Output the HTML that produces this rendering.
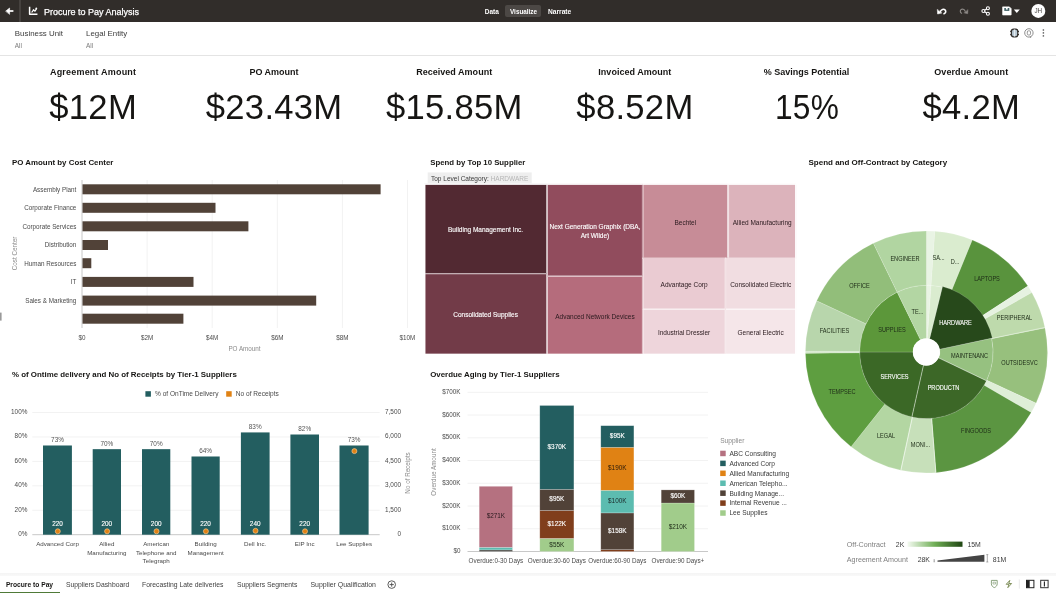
<!DOCTYPE html>
<html lang="en">
<head>
<meta charset="utf-8">
<title>Procure to Pay Analysis</title>
<style>
html,body{margin:0;padding:0;background:#fff}
body{width:1056px;height:594px;overflow:hidden;position:relative;font-family:"Liberation Sans",sans-serif;color:#161513}
.t{position:absolute;white-space:nowrap;display:block}
header{position:absolute;left:0;top:0;width:1056px;height:22px;background:#312d2a;color:#fff}
header .sep{position:absolute;left:19.3px;top:0;width:1.4px;height:22px;background:#46423f}
header .pill{position:absolute;left:505.3px;top:4.7px;width:36px;height:12.6px;border-radius:2px;background:#4c4845}
header svg{position:absolute;left:0;top:0}
.filters{position:absolute;left:0;top:22px;width:1056px;height:33px;border-bottom:1px solid #e4e4e4;background:#fff}
.filters svg{position:absolute;left:0;top:-22px}
.ttl{-webkit-text-stroke:0.25px #fff}
.kl{color:#161513;font-weight:700}
.kv{color:#161513}
.pct{transform:scaleX(0.915);transform-origin:50% 50%}
svg.charts{position:absolute;left:0;top:0}
footer{position:absolute;left:0;top:573px;width:1056px;height:21px;background:#fff}
footer .edge{position:absolute;left:0;top:0.2px;width:1056px;height:3px;background:linear-gradient(#f4f4f4,#f9f9f9)}
footer .t{color:#404040}
footer .on{color:#161513}
footer .bar{position:absolute;left:0;top:18.8px;width:59.8px;height:1.7px;background:#4f7a38}
footer svg{position:absolute;left:0;top:-573px}
</style>
</head>
<body>
<header>
<div class="sep"></div>
<div class="pill"></div>
<span class="t ttl" style="top:7.68px;font-size:9.0px;line-height:9.0px;left:44px;color:#fff;">Procure to Pay Analysis</span>
<span class="t" style="top:9.00px;font-size:6.5px;line-height:6.5px;left:484.7px;color:#fff;font-weight:700;">Data</span>
<span class="t" style="top:9.12px;font-size:6.35px;line-height:6.35px;left:510px;color:#fff;font-weight:700;">Visualize</span>
<span class="t" style="top:8.87px;font-size:6.65px;line-height:6.65px;left:548px;color:#fff;font-weight:700;">Narrate</span>
<svg width="1056" height="22" viewBox="0 0 1056 22" fill="none" stroke="#fff" stroke-width="1.3" stroke-linecap="round" stroke-linejoin="round">
<path d="M13.4,11H8" stroke-width="1.7" stroke-linecap="butt"/><path d="M5.9,11L9.6,8v6z" fill="#fff" stroke-width="0.6"/>
<path d="M29.6,7.4v6.9h7.1" stroke-width="1.5" stroke-linecap="square"/><path d="M31.9,12.1l1.6-2.1l1.5,1.2l1.5-2.6" stroke-width="1.2"/><circle cx="36.3" cy="8.4" r="0.9" fill="#fff" stroke="none"/><circle cx="33.5" cy="10.1" r="0.8" fill="#fff" stroke="none"/>
<path d="M940.4,11.4c0.9-2,3.3-2.8,4.6-1.6c1.4,1.3,0.8,3.2-1,3.9" stroke-width="1.6"/><path d="M937.3,9.7l0.3,4.3l4-0.9z" fill="#fff" stroke-width="0.5"/>
<path d="M965.2,11.2c-0.9-1.9-3-2.6-4.2-1.5c-1.2,1.1-0.8,2.8,0.6,3.5" stroke="#8f8b88" stroke-width="1.1"/><path d="M968,9.9l-0.3,3.8l-3.5-0.8z" fill="#8f8b88" stroke="#8f8b88" stroke-width="0.4"/>
<path d="M983.4,11l4.4-2.8M983.4,11l4.4,2.7" stroke-width="1.1"/><circle cx="983.4" cy="11" r="1.5" fill="#312d2a" stroke-width="1.1"/><circle cx="987.9" cy="8.2" r="1.5" fill="#312d2a" stroke-width="1.1"/><circle cx="987.9" cy="13.7" r="1.5" fill="#312d2a" stroke-width="1.1"/>
<path d="M1003,6.9h6.4l1.7,1.7v6.3h-8.1z" fill="#fff" stroke-width="0.8"/><rect x="1004.3" y="8" width="5" height="2.9" fill="#3f5f63" stroke="none"/><rect x="1005.9" y="8" width="1.8" height="1.6" fill="#fff" stroke="none"/>
<path d="M1013.8,9.6h6l-3,3.5z" fill="#fff" stroke="none"/>
<circle cx="1038.3" cy="10.9" r="7" fill="#fff" stroke="none"/>
</svg>
<span class="t" style="top:8.27px;font-size:6.3px;line-height:6.3px;left:888.30px;width:300px;text-align:center;color:#4a4643;">JH</span>
</header>
<div class="filters">
<span class="t" style="top:7.91px;font-size:7.9px;line-height:7.9px;left:14.8px;color:#3d3d3d;">Business Unit</span>
<span class="t" style="top:20.98px;font-size:6.4px;line-height:6.4px;left:14.8px;color:#7a7a7a;">All</span>
<span class="t" style="top:7.91px;font-size:7.9px;line-height:7.9px;left:86px;color:#3d3d3d;">Legal Entity</span>
<span class="t" style="top:20.98px;font-size:6.4px;line-height:6.4px;left:86px;color:#7a7a7a;">All</span>
<svg width="1056" height="56" viewBox="0 0 1056 56" fill="none" stroke="#4a4a4a" stroke-width="0.9">
<rect x="1011.4" y="29.2" width="6.4" height="7.6" rx="2.2" fill="#b9c9d4" stroke="#33302d" stroke-width="1.3"/><path d="M1014.6,29.4v7.2" stroke="#eef3f6" stroke-width="0.9"/><path d="M1010.2,31.4h1.6M1010.2,34.6h1.6M1017.4,31.4h1.6M1017.4,34.6h1.6" stroke="#33302d" stroke-width="1.1"/>
<circle cx="1028.9" cy="32.9" r="4.2" stroke="#8c8c8c" stroke-width="1"/><rect x="1027.3" y="30.8" width="3.2" height="4.2" rx="1.2" stroke="#8c8c8c" stroke-width="0.9"/><circle cx="1030.6" cy="37" r="0.6" fill="#555" stroke="none"/>
<rect x="1042.7" y="29.3" width="1.4" height="1.4" fill="#555" stroke="none"/><rect x="1042.7" y="32.2" width="1.4" height="1.4" fill="#555" stroke="none"/><rect x="1042.7" y="35.2" width="1.4" height="1.4" fill="#555" stroke="none"/>
</svg>
</div>
<section class="kpis">
<div class="kpi"><span class="t kl" style="top:68.08px;font-size:9.0px;line-height:9.0px;left:-56.91px;width:300px;text-align:center;letter-spacing:0.19px;">Agreement Amount</span><span class="t kv" style="top:90.01px;font-size:34.6px;line-height:34.6px;left:-56.85px;width:300px;text-align:center;letter-spacing:0.3px;">$12M</span></div>
<div class="kpi"><span class="t kl" style="top:68.08px;font-size:9.0px;line-height:9.0px;left:124.00px;width:300px;text-align:center;letter-spacing:0px;">PO Amount</span><span class="t kv" style="top:90.01px;font-size:34.6px;line-height:34.6px;left:124.15px;width:300px;text-align:center;letter-spacing:0.3px;">$23.43M</span></div>
<div class="kpi"><span class="t kl" style="top:68.08px;font-size:9.0px;line-height:9.0px;left:304.21px;width:300px;text-align:center;letter-spacing:0.02px;">Received Amount</span><span class="t kv" style="top:90.01px;font-size:34.6px;line-height:34.6px;left:304.35px;width:300px;text-align:center;letter-spacing:0.3px;">$15.85M</span></div>
<div class="kpi"><span class="t kl" style="top:68.08px;font-size:9.0px;line-height:9.0px;left:484.81px;width:300px;text-align:center;letter-spacing:0.02px;">Invoiced Amount</span><span class="t kv" style="top:90.01px;font-size:34.6px;line-height:34.6px;left:484.95px;width:300px;text-align:center;letter-spacing:0.3px;">$8.52M</span></div>
<div class="kpi"><span class="t kl" style="top:68.08px;font-size:9.0px;line-height:9.0px;left:656.50px;width:300px;text-align:center;letter-spacing:0px;">% Savings Potential</span><span class="t kv pct" style="top:90.01px;font-size:34.6px;line-height:34.6px;left:656.65px;width:300px;text-align:center;letter-spacing:0.3px;">15%</span></div>
<div class="kpi"><span class="t kl" style="top:68.08px;font-size:9.0px;line-height:9.0px;left:821.25px;width:300px;text-align:center;letter-spacing:0.1px;">Overdue Amount</span><span class="t kv" style="top:90.01px;font-size:34.6px;line-height:34.6px;left:821.35px;width:300px;text-align:center;letter-spacing:0.3px;">$4.2M</span></div>
</section>
<svg class="charts" width="1056" height="594" viewBox="0 0 1056 594" font-family='"Liberation Sans", sans-serif'>
<g id="chart-po-cost-center"><text x="12" y="165" font-size="7.9" fill="#161513" font-weight="700">PO Amount by Cost Center</text><line x1="147.1" y1="180" x2="147.1" y2="328" stroke="#f2f2f2" stroke-width="1"/><line x1="212.2" y1="180" x2="212.2" y2="328" stroke="#f2f2f2" stroke-width="1"/><line x1="277.29999999999995" y1="180" x2="277.29999999999995" y2="328" stroke="#f2f2f2" stroke-width="1"/><line x1="342.4" y1="180" x2="342.4" y2="328" stroke="#f2f2f2" stroke-width="1"/><line x1="407.5" y1="180" x2="407.5" y2="328" stroke="#f2f2f2" stroke-width="1"/><line x1="82.0" y1="180" x2="82.0" y2="328" stroke="#c8c8c8" stroke-width="1"/><rect x="82.50" y="184.30" width="298.10" height="10.00" fill="#514238"/><text x="76.3" y="191.60000000000002" font-size="6.3" fill="#4a4a4a" text-anchor="end">Assembly Plant</text><rect x="82.50" y="202.80" width="133.00" height="10.00" fill="#514238"/><text x="76.3" y="210.10000000000002" font-size="6.3" fill="#4a4a4a" text-anchor="end">Corporate Finance</text><rect x="82.50" y="221.30" width="165.90" height="10.00" fill="#514238"/><text x="76.3" y="228.60000000000002" font-size="6.3" fill="#4a4a4a" text-anchor="end">Corporate Services</text><rect x="82.50" y="240.00" width="25.50" height="10.00" fill="#514238"/><text x="76.3" y="247.3" font-size="6.3" fill="#4a4a4a" text-anchor="end">Distribution</text><rect x="82.50" y="258.20" width="8.80" height="10.00" fill="#514238"/><text x="76.3" y="265.5" font-size="6.3" fill="#4a4a4a" text-anchor="end">Human Resources</text><rect x="82.50" y="276.90" width="111.00" height="10.00" fill="#514238"/><text x="76.3" y="284.2" font-size="6.3" fill="#4a4a4a" text-anchor="end">IT</text><rect x="82.50" y="295.60" width="233.70" height="10.00" fill="#514238"/><text x="76.3" y="302.90000000000003" font-size="6.3" fill="#4a4a4a" text-anchor="end">Sales &amp; Marketing</text><rect x="82.50" y="313.70" width="100.90" height="10.00" fill="#514238"/><text x="82.0" y="340.2" font-size="6.3" fill="#4a4a4a" text-anchor="middle">$0</text><text x="147.1" y="340.2" font-size="6.3" fill="#4a4a4a" text-anchor="middle">$2M</text><text x="212.2" y="340.2" font-size="6.3" fill="#4a4a4a" text-anchor="middle">$4M</text><text x="277.29999999999995" y="340.2" font-size="6.3" fill="#4a4a4a" text-anchor="middle">$6M</text><text x="342.4" y="340.2" font-size="6.3" fill="#4a4a4a" text-anchor="middle">$8M</text><text x="407.5" y="340.2" font-size="6.3" fill="#4a4a4a" text-anchor="middle">$10M</text><text x="244.5" y="351.3" font-size="6.3" fill="#8a8a8a" text-anchor="middle">PO Amount</text><text transform="translate(16.6,253.5) rotate(-90)" font-size="6.3" fill="#8a8a8a" text-anchor="middle">Cost Center</text><rect x="0.00" y="312.60" width="1.60" height="8.00" fill="#9a9a9a"/></g>
<g id="chart-treemap"><text x="430.2" y="165" font-size="7.8" fill="#161513" font-weight="700">Spend by Top 10 Supplier</text><rect x="427.70" y="172.40" width="104.00" height="11.00" fill="#eeeeee"/><text x="431" y="181" font-size="6.5" fill="#3a3a3a">Top Level Category: <tspan fill="#b5b5b5">HARDWARE</tspan></text><rect x="424.30" y="183.90" width="122.70" height="89.80" fill="#522932"/><rect x="424.30" y="273.40" width="122.70" height="81.20" fill="#723b48"/><rect x="547.00" y="183.90" width="95.90" height="92.40" fill="#914c5d"/><rect x="547.00" y="276.10" width="95.90" height="78.50" fill="#b56c7c"/><rect x="642.50" y="183.90" width="85.60" height="74.50" fill="#c78c97"/><rect x="728.10" y="183.90" width="68.10" height="74.50" fill="#dcb3bb"/><rect x="642.50" y="257.80" width="83.20" height="51.60" fill="#eacbd2"/><rect x="725.10" y="257.80" width="71.10" height="51.60" fill="#f1dde1"/><rect x="642.50" y="309.20" width="83.20" height="45.40" fill="#eed5db"/><rect x="725.10" y="309.20" width="71.10" height="45.40" fill="#f5e6e9"/><path d="M424.2,183.9h122.9v89.8h-122.9ZM425.3,184.7v88.2h120.7v-88.2ZM424.2,273.4h122.9v81.2h-122.9ZM425.3,274.2v79.6h120.7v-79.6ZM546.9,183.9h96.1v92.4h-96.1ZM548.0,184.7v90.8h93.9v-90.8ZM546.9,276.1h96.1v78.5h-96.1ZM548.0,276.9v76.9h93.9v-76.9ZM642.4,183.9h85.8v74.5h-85.8ZM643.5,184.7v72.9h83.6v-72.9ZM728.0,183.9h68.3v74.5h-68.3ZM729.1,184.7v72.9h66.1v-72.9ZM642.4,257.8h83.4v51.6h-83.4ZM643.5,258.6v50.0h81.2v-50.0ZM725.0,257.8h71.3v51.6h-71.3ZM726.1,258.6v50.0h69.1v-50.0ZM642.4,309.2h83.4v45.4h-83.4ZM643.5,310.0v43.8h81.2v-43.8ZM725.0,309.2h71.3v45.4h-71.3ZM726.1,310.0v43.8h69.1v-43.8Z" fill="#fff" fill-opacity="0.72" fill-rule="evenodd"/><rect x="420.00" y="183.40" width="380.00" height="1.30" fill="#fff"/><rect x="420.00" y="353.80" width="380.00" height="1.40" fill="#fff"/><rect x="424.00" y="184.00" width="1.30" height="170.00" fill="#fff"/><rect x="795.20" y="184.00" width="1.40" height="170.00" fill="#fff"/><text x="485.6" y="232.2" font-size="6.5" fill="#fff" text-anchor="middle" stroke="#fff" stroke-width="0.12">Building Management Inc.</text><text x="485.6" y="317.4" font-size="6.5" fill="#fff" text-anchor="middle" stroke="#fff" stroke-width="0.12">Consolidated Supplies</text><text x="595.0" y="229.2" font-size="6.5" fill="#fff" text-anchor="middle" stroke="#fff" stroke-width="0.12">Next Generation Graphix (DBA,</text><text x="595.0" y="237.8" font-size="6.5" fill="#fff" text-anchor="middle" stroke="#fff" stroke-width="0.12">Art Wilde)</text><text x="595.0" y="318.8" font-size="6.5" fill="#2a1a1e" text-anchor="middle">Advanced Network Devices</text><text x="685.3" y="224.6" font-size="6.5" fill="#2a1a1e" text-anchor="middle">Bechtel</text><text x="762.2" y="224.6" font-size="6.5" fill="#2a1a1e" text-anchor="middle">Allied Manufacturing</text><text x="684.1" y="287.0" font-size="6.5" fill="#2a1a1e" text-anchor="middle">Advantage Corp</text><text x="760.7" y="287.0" font-size="6.5" fill="#2a1a1e" text-anchor="middle">Consolidated Electric</text><text x="684.1" y="335.3" font-size="6.5" fill="#2a1a1e" text-anchor="middle">Industrial Dressler</text><text x="760.7" y="335.3" font-size="6.5" fill="#2a1a1e" text-anchor="middle">General Electric</text></g>
<g id="chart-sunburst"><text x="808.5" y="165" font-size="8.0" fill="#161513" font-weight="700">Spend and Off-Contract by Category</text><path d="M926.40,231.00A121.0,121.0 0 0 1 934.84,231.29L931.05,285.56A66.6,66.6 0 0 0 926.40,285.40Z" fill="#e9f4e4" stroke="#ffffff" stroke-opacity="0.22" stroke-width="0.7"/><path d="M934.84,231.29A121.0,121.0 0 0 1 972.31,240.05L951.67,290.38A66.6,66.6 0 0 0 931.05,285.56Z" fill="#daeccf" stroke="#ffffff" stroke-opacity="0.22" stroke-width="0.7"/><path d="M972.31,240.05A121.0,121.0 0 0 1 1027.88,286.10L982.26,315.73A66.6,66.6 0 0 0 951.67,290.38Z" fill="#59933d" stroke="#ffffff" stroke-opacity="0.22" stroke-width="0.7"/><path d="M1027.88,286.10A121.0,121.0 0 0 1 1031.82,292.60L984.42,319.31A66.6,66.6 0 0 0 982.26,315.73Z" fill="#e6f2e1" stroke="#ffffff" stroke-opacity="0.22" stroke-width="0.7"/><path d="M1031.82,292.60A121.0,121.0 0 0 1 1044.97,327.88L991.66,338.72A66.6,66.6 0 0 0 984.42,319.31Z" fill="#bedaac" stroke="#ffffff" stroke-opacity="0.22" stroke-width="0.7"/><path d="M1044.97,327.88A121.0,121.0 0 0 1 1036.06,403.14L986.76,380.15A66.6,66.6 0 0 0 991.66,338.72Z" fill="#97c07d" stroke="#ffffff" stroke-opacity="0.22" stroke-width="0.7"/><path d="M1036.06,403.14A121.0,121.0 0 0 1 1031.19,412.50L984.08,385.30A66.6,66.6 0 0 0 986.76,380.15Z" fill="#deeed7" stroke="#ffffff" stroke-opacity="0.22" stroke-width="0.7"/><path d="M1031.19,412.50A121.0,121.0 0 0 1 935.89,472.63L931.63,418.39A66.6,66.6 0 0 0 984.08,385.30Z" fill="#5b9541" stroke="#ffffff" stroke-opacity="0.22" stroke-width="0.7"/><path d="M935.89,472.63A121.0,121.0 0 0 1 900.83,470.27L912.33,417.10A66.6,66.6 0 0 0 931.63,418.39Z" fill="#c7e0ba" stroke="#ffffff" stroke-opacity="0.22" stroke-width="0.7"/><path d="M900.83,470.27A121.0,121.0 0 0 1 851.08,446.70L884.94,404.12A66.6,66.6 0 0 0 912.33,417.10Z" fill="#b3d6a2" stroke="#ffffff" stroke-opacity="0.22" stroke-width="0.7"/><path d="M851.08,446.70A121.0,121.0 0 0 1 805.41,353.27L859.80,352.70A66.6,66.6 0 0 0 884.94,404.12Z" fill="#5e9e40" stroke="#ffffff" stroke-opacity="0.22" stroke-width="0.7"/><path d="M805.41,353.27A121.0,121.0 0 0 1 805.40,351.16L859.80,351.54A66.6,66.6 0 0 0 859.80,352.70Z" fill="#d4e8ca" stroke="#ffffff" stroke-opacity="0.22" stroke-width="0.7"/><path d="M805.40,351.16A121.0,121.0 0 0 1 816.74,300.86L866.04,323.85A66.6,66.6 0 0 0 859.80,351.54Z" fill="#b8d6ac" stroke="#ffffff" stroke-opacity="0.22" stroke-width="0.7"/><path d="M816.74,300.86A121.0,121.0 0 0 1 873.36,243.25L897.20,292.14A66.6,66.6 0 0 0 866.04,323.85Z" fill="#92be7a" stroke="#ffffff" stroke-opacity="0.22" stroke-width="0.7"/><path d="M873.36,243.25A121.0,121.0 0 0 1 926.40,231.00L926.40,285.40A66.6,66.6 0 0 0 897.20,292.14Z" fill="#b1d5a1" stroke="#ffffff" stroke-opacity="0.22" stroke-width="0.7"/><path d="M926.40,285.40A66.6,66.6 0 0 1 931.05,285.56L927.34,338.53A13.5,13.5 0 0 0 926.40,338.50Z" fill="#e9f4e4" stroke="#ffffff" stroke-opacity="0.22" stroke-width="0.7"/><path d="M931.05,285.56A66.6,66.6 0 0 1 942.40,287.35L929.64,338.90A13.5,13.5 0 0 0 927.34,338.53Z" fill="#daeccf" stroke="#ffffff" stroke-opacity="0.22" stroke-width="0.7"/><path d="M991.54,338.15A66.6,66.6 0 0 1 986.46,380.78L938.57,357.83A13.5,13.5 0 0 0 939.60,349.19Z" fill="#96c180" stroke="#ffffff" stroke-opacity="0.22" stroke-width="0.7"/><path d="M986.46,380.78A66.6,66.6 0 0 1 911.87,417.00L923.46,365.17A13.5,13.5 0 0 0 938.57,357.83Z" fill="#3c6727" stroke="#ffffff" stroke-opacity="0.22" stroke-width="0.7"/><path d="M911.87,417.00A66.6,66.6 0 0 1 859.80,352.00L912.90,352.00A13.5,13.5 0 0 0 923.46,365.17Z" fill="#3b6826" stroke="#ffffff" stroke-opacity="0.22" stroke-width="0.7"/><path d="M859.80,352.00A66.6,66.6 0 0 1 897.20,292.14L920.48,339.87A13.5,13.5 0 0 0 912.90,352.00Z" fill="#5c973a" stroke="#ffffff" stroke-opacity="0.22" stroke-width="0.7"/><path d="M897.20,292.14A66.6,66.6 0 0 1 926.40,285.40L926.40,338.50A13.5,13.5 0 0 0 920.48,339.87Z" fill="#b3d6a3" stroke="#ffffff" stroke-opacity="0.22" stroke-width="0.7"/><path d="M942.59,286.57A67.4,67.4 0 0 1 992.33,337.99L939.60,349.19A13.5,13.5 0 0 0 929.64,338.90Z" fill="#27491b" stroke="#ffffff" stroke-opacity="0.22" stroke-width="0.7"/><circle cx="926.4" cy="352.0" r="13.5" fill="#fff"/><line x1="912.33" y1="417.10" x2="900.83" y2="470.27" stroke="#eef7ea" stroke-opacity="0.75" stroke-width="1"/><line x1="931.63" y1="418.39" x2="935.89" y2="472.63" stroke="#eef7ea" stroke-opacity="0.6" stroke-width="1"/><line x1="923.46" y1="365.17" x2="911.87" y2="417.00" stroke="#eef7ea" stroke-opacity="0.35" stroke-width="1"/><line x1="991.62" y1="338.49" x2="1044.89" y2="327.46" stroke="#eef7ea" stroke-opacity="0.5" stroke-width="1"/><line x1="938.57" y1="357.83" x2="986.46" y2="380.78" stroke="#eef7ea" stroke-opacity="0.4" stroke-width="1"/><text transform="translate(905,261.4) scale(0.78,1)" font-size="7.2" fill="#1d2b17" text-anchor="middle">ENGINEER</text><text transform="translate(859.5,287.9) scale(0.78,1)" font-size="7.2" fill="#1d2b17" text-anchor="middle">OFFICE</text><text transform="translate(834.5,332.9) scale(0.78,1)" font-size="7.2" fill="#1d2b17" text-anchor="middle">FACILITIES</text><text transform="translate(892,331.9) scale(0.78,1)" font-size="7.2" fill="#1d2b17" text-anchor="middle">SUPPLIES</text><text transform="translate(917.5,314.4) scale(0.78,1)" font-size="7.2" fill="#1d2b17" text-anchor="middle">TE...</text><text transform="translate(938.5,260.4) scale(0.78,1)" font-size="7.2" fill="#1d2b17" text-anchor="middle">SA...</text><text transform="translate(955,263.9) scale(0.78,1)" font-size="7.2" fill="#1d2b17" text-anchor="middle">D...</text><text transform="translate(987,281.4) scale(0.78,1)" font-size="7.2" fill="#1d2b17" text-anchor="middle">LAPTOPS</text><text transform="translate(955.5,325.4) scale(0.78,1)" font-size="7.2" fill="#fff" text-anchor="middle" stroke="#fff" stroke-width="0.12">HARDWARE</text><text transform="translate(1014.5,320.4) scale(0.78,1)" font-size="7.2" fill="#1d2b17" text-anchor="middle">PERIPHERAL</text><text transform="translate(969.5,358.4) scale(0.78,1)" font-size="7.2" fill="#1d2b17" text-anchor="middle">MAINTENANC</text><text transform="translate(1019.5,365.4) scale(0.78,1)" font-size="7.2" fill="#1d2b17" text-anchor="middle">OUTSIDESVC</text><text transform="translate(894.5,378.5) scale(0.78,1)" font-size="7.2" fill="#fff" text-anchor="middle" stroke="#fff" stroke-width="0.12">SERVICES</text><text transform="translate(943.5,389.9) scale(0.78,1)" font-size="7.2" fill="#fff" text-anchor="middle" stroke="#fff" stroke-width="0.12">PRODUCTN</text><text transform="translate(842,394.2) scale(0.78,1)" font-size="7.2" fill="#1d2b17" text-anchor="middle">TEMPSEC</text><text transform="translate(886,438.4) scale(0.78,1)" font-size="7.2" fill="#1d2b17" text-anchor="middle">LEGAL</text><text transform="translate(920.5,447.4) scale(0.78,1)" font-size="7.2" fill="#1d2b17" text-anchor="middle">MONI...</text><text transform="translate(976,433.4) scale(0.78,1)" font-size="7.2" fill="#1d2b17" text-anchor="middle">FINGOODS</text><text x="846.8" y="546.9" font-size="7.15" fill="#808080">Off-Contract</text><text x="895.8" y="546.9" font-size="6.9" fill="#3a3a3a">2K</text><defs><linearGradient id="gg" x1="0" x2="1" y1="0" y2="0"><stop offset="0" stop-color="#f4faf1"/><stop offset="0.5" stop-color="#6fae55"/><stop offset="1" stop-color="#1f4512"/></linearGradient></defs><rect x="907.50" y="541.60" width="55.00" height="5.20" fill="url(#gg)"/><text x="967.4" y="546.9" font-size="6.9" fill="#3a3a3a">15M</text><text x="846.8" y="561.8" font-size="7.15" fill="#808080">Agreement Amount</text><text x="917.7" y="561.8" font-size="6.9" fill="#3a3a3a">28K</text><path d="M937.5,561.8L937.5,560.6L984.4,554.8L984.4,561.8Z" fill="#444"/><path d="M934.2,559.8v2M933.6,559.8h1.2M933.6,561.8h1.2M987.3,554.6v7.4M986.3,554.6h2M986.3,562h2" stroke="#777" stroke-width="0.6" fill="none"/><text x="992.8" y="561.8" font-size="6.9" fill="#3a3a3a">81M</text></g>
<g id="chart-ontime"><text x="12" y="376.7" font-size="7.9" fill="#161513" font-weight="700">% of Ontime delivery and No of Receipts by Tier-1 Suppliers</text><rect x="145.40" y="391.20" width="5.50" height="5.50" fill="#235e60"/><text x="155" y="396.2" font-size="6.55" fill="#4a4a4a">% of OnTime Delivery</text><rect x="226.20" y="391.20" width="5.50" height="5.50" fill="#e08214"/><text x="235.8" y="396.2" font-size="6.55" fill="#4a4a4a">No of Receipts</text><line x1="32.3" y1="534.7" x2="379.7" y2="534.7" stroke="#c8c8c8" stroke-width="1"/><text x="27.4" y="536.1" font-size="6.4" fill="#4a4a4a" text-anchor="end">0%</text><text x="401" y="536.1" font-size="6.4" fill="#4a4a4a" text-anchor="end">0</text><line x1="32.3" y1="510.26" x2="379.7" y2="510.26" stroke="#f2f2f2" stroke-width="1"/><text x="27.4" y="511.7" font-size="6.4" fill="#4a4a4a" text-anchor="end">20%</text><text x="401" y="511.7" font-size="6.4" fill="#4a4a4a" text-anchor="end">1,500</text><line x1="32.3" y1="485.82" x2="379.7" y2="485.82" stroke="#f2f2f2" stroke-width="1"/><text x="27.4" y="487.2" font-size="6.4" fill="#4a4a4a" text-anchor="end">40%</text><text x="401" y="487.2" font-size="6.4" fill="#4a4a4a" text-anchor="end">3,000</text><line x1="32.3" y1="461.38" x2="379.7" y2="461.38" stroke="#f2f2f2" stroke-width="1"/><text x="27.4" y="462.8" font-size="6.4" fill="#4a4a4a" text-anchor="end">60%</text><text x="401" y="462.8" font-size="6.4" fill="#4a4a4a" text-anchor="end">4,500</text><line x1="32.3" y1="436.94" x2="379.7" y2="436.94" stroke="#f2f2f2" stroke-width="1"/><text x="27.4" y="438.3" font-size="6.4" fill="#4a4a4a" text-anchor="end">80%</text><text x="401" y="438.3" font-size="6.4" fill="#4a4a4a" text-anchor="end">6,000</text><line x1="32.3" y1="412.5" x2="379.7" y2="412.5" stroke="#f2f2f2" stroke-width="1"/><text x="27.4" y="413.9" font-size="6.4" fill="#4a4a4a" text-anchor="end">100%</text><text x="401" y="413.9" font-size="6.4" fill="#4a4a4a" text-anchor="end">7,500</text><rect x="43.00" y="445.49" width="28.90" height="89.21" fill="#235e60"/><text x="57.5" y="442.1" font-size="6.4" fill="#555" text-anchor="middle">73%</text><text x="57.5" y="526.2" font-size="6.4" fill="#fff" text-anchor="middle" stroke="#fff" stroke-width="0.12">220</text><circle cx="57.8" cy="531.3" r="2.5" fill="#e08214" stroke="#f3c58f" stroke-width="0.7"/><text x="57.5" y="546.4" font-size="6.2" fill="#4a4a4a" text-anchor="middle">Advanced Corp</text><rect x="92.70" y="449.16" width="28.30" height="85.54" fill="#235e60"/><text x="106.8" y="445.8" font-size="6.4" fill="#555" text-anchor="middle">70%</text><text x="106.8" y="526.2" font-size="6.4" fill="#fff" text-anchor="middle" stroke="#fff" stroke-width="0.12">200</text><circle cx="107.1" cy="531.3" r="2.5" fill="#e08214" stroke="#f3c58f" stroke-width="0.7"/><text x="106.8" y="546.4" font-size="6.2" fill="#4a4a4a" text-anchor="middle">Allied</text><text x="106.8" y="554.7" font-size="6.2" fill="#4a4a4a" text-anchor="middle">Manufacturing</text><rect x="142.00" y="449.16" width="28.30" height="85.54" fill="#235e60"/><text x="156.2" y="445.8" font-size="6.4" fill="#555" text-anchor="middle">70%</text><text x="156.2" y="526.2" font-size="6.4" fill="#fff" text-anchor="middle" stroke="#fff" stroke-width="0.12">200</text><circle cx="156.5" cy="531.3" r="2.5" fill="#e08214" stroke="#f3c58f" stroke-width="0.7"/><text x="156.2" y="546.4" font-size="6.2" fill="#4a4a4a" text-anchor="middle">American</text><text x="156.2" y="554.7" font-size="6.2" fill="#4a4a4a" text-anchor="middle">Telephone and</text><text x="156.2" y="563.0" font-size="6.2" fill="#4a4a4a" text-anchor="middle">Telegraph</text><rect x="191.50" y="456.49" width="28.20" height="78.21" fill="#235e60"/><text x="205.6" y="453.1" font-size="6.4" fill="#555" text-anchor="middle">64%</text><text x="205.6" y="526.2" font-size="6.4" fill="#fff" text-anchor="middle" stroke="#fff" stroke-width="0.12">220</text><circle cx="205.9" cy="531.3" r="2.5" fill="#e08214" stroke="#f3c58f" stroke-width="0.7"/><text x="205.6" y="546.4" font-size="6.2" fill="#4a4a4a" text-anchor="middle">Building</text><text x="205.6" y="554.7" font-size="6.2" fill="#4a4a4a" text-anchor="middle">Management</text><rect x="240.90" y="432.42" width="28.70" height="102.28" fill="#235e60"/><text x="255.2" y="429.0" font-size="6.4" fill="#555" text-anchor="middle">83%</text><text x="255.2" y="526.2" font-size="6.4" fill="#fff" text-anchor="middle" stroke="#fff" stroke-width="0.12">240</text><circle cx="255.5" cy="530.8" r="2.5" fill="#e08214" stroke="#f3c58f" stroke-width="0.7"/><text x="255.2" y="546.4" font-size="6.2" fill="#4a4a4a" text-anchor="middle">Dell Inc.</text><rect x="290.40" y="434.50" width="28.60" height="100.20" fill="#235e60"/><text x="304.7" y="431.1" font-size="6.4" fill="#555" text-anchor="middle">82%</text><text x="304.7" y="526.2" font-size="6.4" fill="#fff" text-anchor="middle" stroke="#fff" stroke-width="0.12">220</text><circle cx="305.0" cy="531.3" r="2.5" fill="#e08214" stroke="#f3c58f" stroke-width="0.7"/><text x="304.7" y="546.4" font-size="6.2" fill="#4a4a4a" text-anchor="middle">EIP Inc</text><rect x="339.50" y="445.49" width="29.10" height="89.21" fill="#235e60"/><text x="354.1" y="442.1" font-size="6.4" fill="#555" text-anchor="middle">73%</text><circle cx="354.40000000000003" cy="451.1" r="2.5" fill="#e08214" stroke="#f3c58f" stroke-width="0.7"/><text x="354.1" y="546.4" font-size="6.2" fill="#4a4a4a" text-anchor="middle">Lee Supplies</text><text transform="translate(410.3,473) rotate(-90)" font-size="6.3" fill="#8a8a8a" text-anchor="middle">No of Receipts</text></g>
<g id="chart-overdue"><text x="430.2" y="376.7" font-size="7.9" fill="#161513" font-weight="700">Overdue Aging by Tier-1 Suppliers</text><line x1="467.5" y1="551.5" x2="708" y2="551.5" stroke="#c8c8c8" stroke-width="1"/><text x="460.5" y="553.1" font-size="6.3" fill="#4a4a4a" text-anchor="end">$0</text><line x1="467.5" y1="528.76" x2="708" y2="528.76" stroke="#f2f2f2" stroke-width="1"/><text x="460.5" y="530.4" font-size="6.3" fill="#4a4a4a" text-anchor="end">$100K</text><line x1="467.5" y1="506.02" x2="708" y2="506.02" stroke="#f2f2f2" stroke-width="1"/><text x="460.5" y="507.6" font-size="6.3" fill="#4a4a4a" text-anchor="end">$200K</text><line x1="467.5" y1="483.28" x2="708" y2="483.28" stroke="#f2f2f2" stroke-width="1"/><text x="460.5" y="484.9" font-size="6.3" fill="#4a4a4a" text-anchor="end">$300K</text><line x1="467.5" y1="460.54" x2="708" y2="460.54" stroke="#f2f2f2" stroke-width="1"/><text x="460.5" y="462.1" font-size="6.3" fill="#4a4a4a" text-anchor="end">$400K</text><line x1="467.5" y1="437.8" x2="708" y2="437.8" stroke="#f2f2f2" stroke-width="1"/><text x="460.5" y="439.4" font-size="6.3" fill="#4a4a4a" text-anchor="end">$500K</text><line x1="467.5" y1="415.06" x2="708" y2="415.06" stroke="#f2f2f2" stroke-width="1"/><text x="460.5" y="416.7" font-size="6.3" fill="#4a4a4a" text-anchor="end">$600K</text><line x1="467.5" y1="392.32" x2="708" y2="392.32" stroke="#f2f2f2" stroke-width="1"/><text x="460.5" y="393.9" font-size="6.3" fill="#4a4a4a" text-anchor="end">$700K</text><rect x="479.20" y="549.90" width="33.30" height="1.60" fill="#4a4a44" stroke="#fff" stroke-opacity="0.35" stroke-width="0.6"/><rect x="479.20" y="547.30" width="33.30" height="2.60" fill="#5cbcb0" stroke="#fff" stroke-opacity="0.35" stroke-width="0.6"/><rect x="479.20" y="486.30" width="33.30" height="61.00" fill="#b57180" stroke="#fff" stroke-opacity="0.35" stroke-width="0.6"/><text x="495.9" y="518.3" font-size="6.4" fill="#2a1a1e" text-anchor="middle">$271K</text><text x="495.9" y="562.8" font-size="6.3" fill="#4a4a4a" text-anchor="middle">Overdue:0-30 Days</text><rect x="539.80" y="538.40" width="34.10" height="13.10" fill="#a1cc8b" stroke="#fff" stroke-opacity="0.35" stroke-width="0.6"/><text x="556.8" y="546.5" font-size="6.4" fill="#1d2b17" text-anchor="middle">$55K</text><rect x="539.80" y="510.50" width="34.10" height="27.90" fill="#803e1c" stroke="#fff" stroke-opacity="0.35" stroke-width="0.6"/><text x="556.8" y="526.0" font-size="6.4" fill="#fff" text-anchor="middle" stroke="#fff" stroke-width="0.12">$122K</text><rect x="539.80" y="489.30" width="34.10" height="21.20" fill="#514238" stroke="#fff" stroke-opacity="0.35" stroke-width="0.6"/><text x="556.8" y="501.4" font-size="6.4" fill="#fff" text-anchor="middle" stroke="#fff" stroke-width="0.12">$95K</text><rect x="539.80" y="405.50" width="34.10" height="83.80" fill="#235e60" stroke="#fff" stroke-opacity="0.35" stroke-width="0.6"/><text x="556.8" y="448.9" font-size="6.4" fill="#fff" text-anchor="middle" stroke="#fff" stroke-width="0.12">$370K</text><text x="556.8" y="562.8" font-size="6.3" fill="#4a4a4a" text-anchor="middle">Overdue:30-60 Days</text><rect x="600.80" y="549.70" width="33.10" height="1.80" fill="#803e1c" stroke="#fff" stroke-opacity="0.35" stroke-width="0.6"/><rect x="600.80" y="512.90" width="33.10" height="36.80" fill="#514238" stroke="#fff" stroke-opacity="0.35" stroke-width="0.6"/><text x="617.3" y="532.8" font-size="6.4" fill="#fff" text-anchor="middle" stroke="#fff" stroke-width="0.12">$158K</text><rect x="600.80" y="490.30" width="33.10" height="22.60" fill="#5cbcb0" stroke="#fff" stroke-opacity="0.35" stroke-width="0.6"/><text x="617.3" y="503.1" font-size="6.4" fill="#1a2a2a" text-anchor="middle">$100K</text><rect x="600.80" y="447.30" width="33.10" height="43.00" fill="#e08214" stroke="#fff" stroke-opacity="0.35" stroke-width="0.6"/><text x="617.3" y="470.3" font-size="6.4" fill="#2a1a0a" text-anchor="middle">$190K</text><rect x="600.80" y="425.70" width="33.10" height="21.60" fill="#235e60" stroke="#fff" stroke-opacity="0.35" stroke-width="0.6"/><text x="617.3" y="438.0" font-size="6.4" fill="#fff" text-anchor="middle" stroke="#fff" stroke-width="0.12">$95K</text><text x="617.3" y="562.8" font-size="6.3" fill="#4a4a4a" text-anchor="middle">Overdue:60-90 Days</text><rect x="661.20" y="503.00" width="33.30" height="48.50" fill="#a1cc8b" stroke="#fff" stroke-opacity="0.35" stroke-width="0.6"/><text x="677.9" y="528.8" font-size="6.4" fill="#1d2b17" text-anchor="middle">$210K</text><rect x="661.20" y="489.90" width="33.30" height="13.10" fill="#514238" stroke="#fff" stroke-opacity="0.35" stroke-width="0.6"/><text x="677.9" y="497.9" font-size="6.4" fill="#fff" text-anchor="middle" stroke="#fff" stroke-width="0.12">$60K</text><text x="677.9" y="562.8" font-size="6.3" fill="#4a4a4a" text-anchor="middle">Overdue:90 Days+</text><text transform="translate(435.8,472) rotate(-90)" font-size="6.3" fill="#8a8a8a" text-anchor="middle">Overdue Amount</text><text x="720.2" y="443.3" font-size="6.6" fill="#8a8a8a">Supplier</text><rect x="720.20" y="450.70" width="5.50" height="5.50" fill="#b57180"/><text x="729.4" y="455.8" font-size="6.6" fill="#3a3a3a">ABC Consulting</text><rect x="720.20" y="460.63" width="5.50" height="5.50" fill="#235e60"/><text x="729.4" y="465.7" font-size="6.6" fill="#3a3a3a">Advanced Corp</text><rect x="720.20" y="470.56" width="5.50" height="5.50" fill="#e08214"/><text x="729.4" y="475.7" font-size="6.6" fill="#3a3a3a">Allied Manufacturing</text><rect x="720.20" y="480.49" width="5.50" height="5.50" fill="#5cbcb0"/><text x="729.4" y="485.6" font-size="6.6" fill="#3a3a3a">American Telepho...</text><rect x="720.20" y="490.42" width="5.50" height="5.50" fill="#514238"/><text x="729.4" y="495.5" font-size="6.6" fill="#3a3a3a">Building Manage...</text><rect x="720.20" y="500.35" width="5.50" height="5.50" fill="#803e1c"/><text x="729.4" y="505.4" font-size="6.6" fill="#3a3a3a">Internal Revenue ...</text><rect x="720.20" y="510.28" width="5.50" height="5.50" fill="#a1cc8b"/><text x="729.4" y="515.4" font-size="6.6" fill="#3a3a3a">Lee Supplies</text></g>
</svg>
<footer>
<span class="t tab on" style="top:9.03px;font-size:6.7px;line-height:6.7px;left:5.9px;font-weight:700;">Procure to Pay</span>
<span class="t tab" style="top:8.97px;font-size:6.77px;line-height:6.77px;left:66px;">Suppliers Dashboard</span>
<span class="t tab" style="top:8.93px;font-size:6.82px;line-height:6.82px;left:142px;">Forecasting Late deliveries</span>
<span class="t tab" style="top:8.99px;font-size:6.75px;line-height:6.75px;left:236.9px;">Suppliers Segments</span>
<span class="t tab" style="top:8.83px;font-size:6.94px;line-height:6.94px;left:310.4px;">Supplier Qualification</span>
<div class="edge"></div>
<div class="bar"></div>
<svg width="1056" height="594" viewBox="0 0 1056 594" fill="none" stroke="#4a4a4a" stroke-width="0.9">
<circle cx="391.7" cy="584.6" r="3.8"/><path d="M389.6,584.6h4.2M391.7,582.5v4.2"/>
<g transform="translate(-0.4,-0.8)"><path d="M991.8,581.2h5.8v3.4c0,2-1.4,3.2-2.9,3.8c-1.5-0.6-2.9-1.8-2.9-3.8z" stroke="#7f9a72"/><path d="M993.4,583h2.6v1.8h-2.6z" stroke="#7f9a72" stroke-width="0.6"/></g>
<path d="M1009.8,580.4l-3.6,3.9h2.8l-1.2,3.4l3.8-4.2h-2.8z" stroke="#66783a" stroke-width="0.8"/>
<path d="M1019.3,579.4v9.2" stroke="#e6e6e6"/>
<rect x="1026.5" y="580.3" width="7.4" height="7.4" stroke="#222" stroke-width="1"/><rect x="1026.5" y="580.3" width="3.2" height="7.4" fill="#222" stroke="none"/>
<rect x="1040.7" y="580.3" width="7.4" height="7.4" stroke="#333" stroke-width="1"/><path d="M1044.4,581.4v5.2" stroke="#222" stroke-width="1.1"/>
</svg>
</footer>
</body>
</html>
